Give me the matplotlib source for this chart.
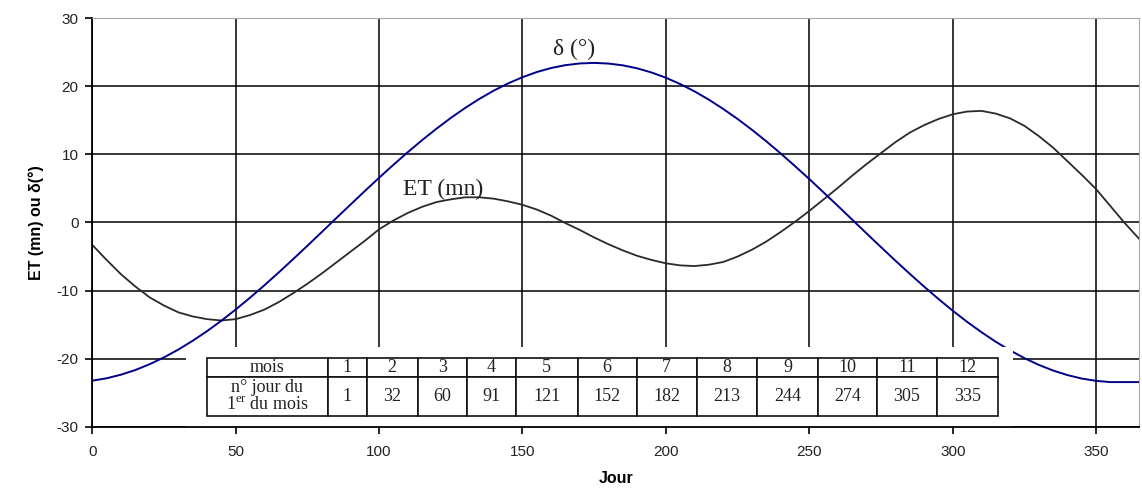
import matplotlib
matplotlib.use('Agg')
import matplotlib.pyplot as plt
from matplotlib.patches import Rectangle

plt.rcParams['font.family'] = ['Liberation Sans', 'DejaVu Sans']
plt.rcParams['mathtext.fontset'] = 'custom'
plt.rcParams['mathtext.rm'] = 'Liberation Serif'
plt.rcParams['mathtext.it'] = 'Liberation Serif:italic'
plt.rcParams['axes.unicode_minus'] = False

# ---- data ----
days = [0, 5, 10, 15, 20, 25, 30, 35, 40, 45, 50, 55, 60, 65, 70, 75, 80, 85,
        90, 95, 100, 105, 110, 115, 120, 125, 130, 135, 140, 145, 150, 155,
        160, 165, 170, 175, 180, 185, 190, 195, 200, 205, 210, 215, 220, 225,
        230, 235, 240, 245, 250, 255, 260, 265, 270, 275, 280, 285, 290, 295,
        300, 305, 310, 315, 320, 325, 330, 335, 340, 345, 350, 355, 360, 365]
et_mn = [-3.3, -5.5, -7.6, -9.4, -11.0, -12.2, -13.2, -13.8, -14.2, -14.4,
         -14.2, -13.6, -12.8, -11.7, -10.4, -9.0, -7.5, -5.9, -4.3, -2.7,
         -1.0, 0.3, 1.4, 2.3, 3.0, 3.4, 3.7, 3.7, 3.5, 3.1,
         2.6, 1.9, 1.0, -0.1, -1.1, -2.2, -3.2, -4.1, -4.9, -5.5,
         -6.0, -6.3, -6.4, -6.2, -5.8, -5.0, -4.0, -2.8, -1.4, 0.1,
         1.7, 3.4, 5.1, 6.9, 8.6, 10.2, 11.8, 13.2, 14.3, 15.2,
         15.9, 16.3, 16.4, 16.0, 15.3, 14.2, 12.7, 11.0, 9.0, 7.0,
         4.9, 2.4, -0.1, -2.4]
delta_deg = [-23.24, -22.89, -22.36, -21.68, -20.82, -19.82, -18.67, -17.38,
             -15.97, -14.43, -12.79, -11.05, -9.23, -7.34, -5.40, -3.42,
             -1.41, 0.61, 2.62, 4.61, 6.57, 8.48, 10.33, 12.10, 13.78, 15.36,
             16.83, 18.17, 19.38, 20.44, 21.35, 22.11, 22.70, 23.12, 23.37,
             23.45, 23.35, 23.09, 22.65, 22.04, 21.27, 20.34, 19.26, 18.04,
             16.68, 15.21, 13.62, 11.93, 10.15, 8.29, 6.38, 4.41, 2.42, 0.40,
             -1.62, -3.62, -5.60, -7.53, -9.41, -11.23, -12.96, -14.59,
             -16.11, -17.52, -18.79, -19.93, -20.92, -21.75, -22.42, -22.93,
             -23.27, -23.45, -23.45, -23.45]

months = ['1', '2', '3', '4', '5', '6', '7', '8', '9', '10', '11', '12']
first_day = [1, 32, 60, 91, 121, 152, 182, 213, 244, 274, 305, 335]
row_labels = ['mois', 'n° jour du\n1$^{\\mathrm{er}}$ du mois']

x_ticks = [0, 50, 100, 150, 200, 250, 300, 350]
y_ticks = [-30, -20, -10, 0, 10, 20, 30]

# ---- figure ----
fig = plt.figure(figsize=(11.42, 4.91), dpi=100)
ax = fig.add_axes([0.0808, 0.1310, 0.9167, 0.8317])

ax.plot(days, et_mn, color='#2a2a2a', lw=1.3, zorder=2)
ax.plot(days, delta_deg, color='#000088', lw=1.4, zorder=2)

ax.set_xlim(0, 365)
ax.set_ylim(-30, 30)
ax.set_xticks(x_ticks)
ax.set_yticks(y_ticks)
ax.set_axisbelow(True)
ax.grid(True, color='black', lw=1.1)

for s in ['top', 'right']:
    ax.spines[s].set_color('#a8a8a8')
    ax.spines[s].set_linewidth(0.8)
for s in ['left', 'bottom']:
    ax.spines[s].set_color('black')
    ax.spines[s].set_linewidth(1.3)

ax.tick_params(direction='out', length=5, width=1.2, labelsize=11,
               labelcolor='#222222')
ax.tick_params(axis='x', pad=8)
ax.tick_params(axis='y', pad=5)

ax.set_xlabel('Jour', fontweight='bold', fontsize=11.5, labelpad=9)
ax.set_ylabel('ET (mn) ou δ(°)', fontweight='bold', fontsize=11.5, labelpad=9)

ax.text(168, 25.4, 'δ (°)', ha='center', va='center', fontsize=17,
        family=['Liberation Serif', 'DejaVu Serif'], color='#222222')
ax.text(122.3, 4.9, 'ET (mn)', ha='center', va='center', fontsize=17,
        family=['Liberation Serif', 'DejaVu Serif'], color='#222222')

# white area behind the table
ax.add_patch(Rectangle((0.0895, 0.0), 0.7900, 0.1959, transform=ax.transAxes,
                       facecolor='white', edgecolor='none', zorder=2.2))

# ---- month table ----
cell_text = [[row_labels[0]] + months,
             [row_labels[1]] + [str(d) for d in first_day]]
col_w = [121, 39, 51, 49, 49, 62, 59, 60, 60, 61.6, 58.4, 60.6, 61]
tab = ax.table(cellText=cell_text, cellLoc='center',
               bbox=[0.1093, 0.0269, 0.7562, 0.1421])
tab.auto_set_font_size(False)
tab.set_zorder(3)
row_h = [19.6, 38.4]
for (r, c), cell in tab.get_celld().items():
    cell.set_width(col_w[c])
    cell.set_height(row_h[r])
    cell.set_linewidth(1.2)
    cell.set_edgecolor('#111111')
    cell.set_facecolor('white')
    t = cell.get_text()
    t.set_fontsize(13)
    t.set_fontfamily(['Liberation Serif', 'DejaVu Serif'])
    t.set_color('#222222')
    t.set_linespacing(1.0)

fig.savefig('out.png', dpi=100)
